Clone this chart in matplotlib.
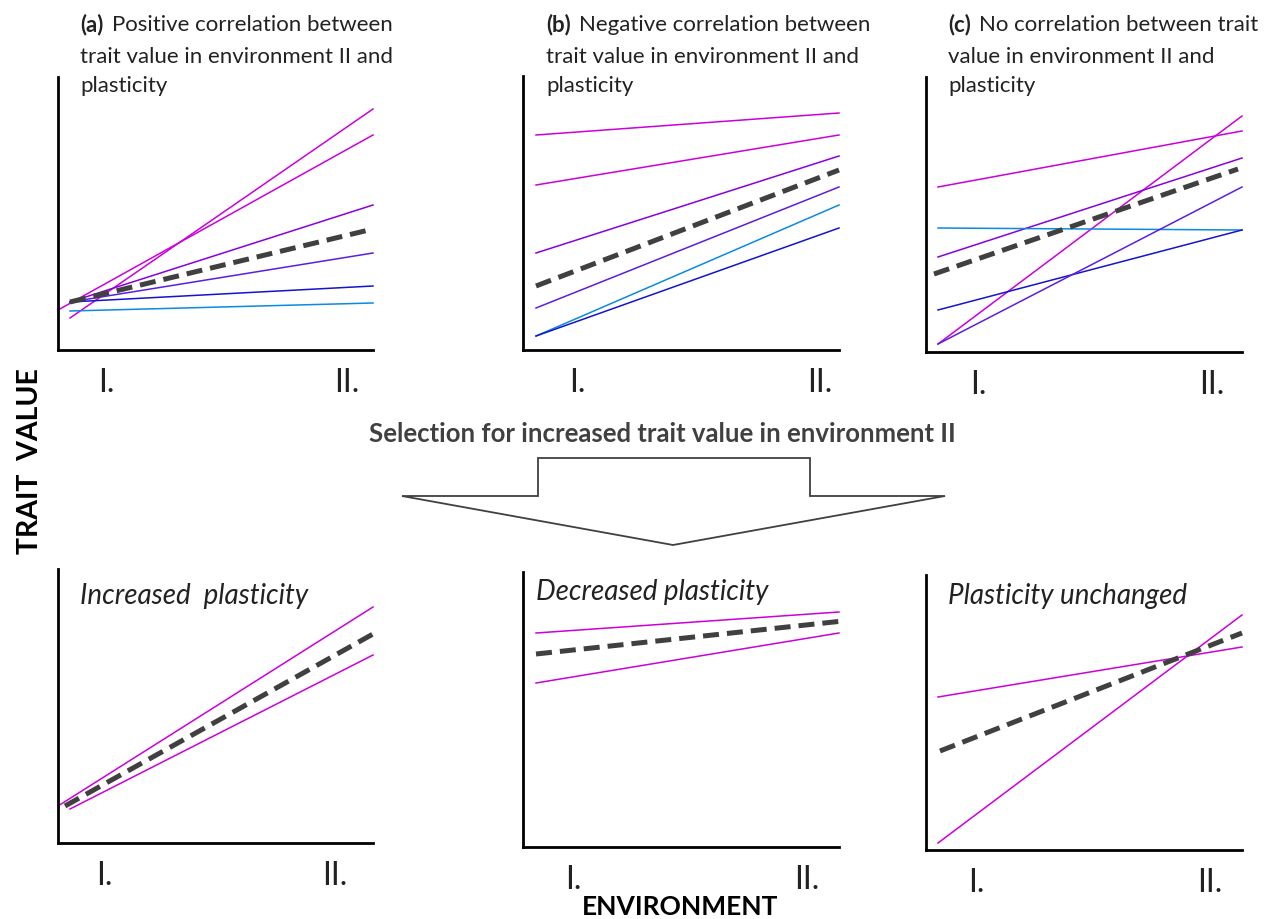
import matplotlib.pyplot as plt
from matplotlib.patches import Polygon

W, H = 1271, 920
plt.rcParams['font.family'] = ['Lato', 'DejaVu Sans']

MAG, PUR, VIO, BLU, LBL = '#cc00dd', '#8800e0', '#5a1ee0', '#1414cc', '#0a8ae0'
MEAN = '#404040'

# reaction norms, given as (x, trait value) at start and end, offsets from each panel's corner
a_x0 = [0, 12, 12, 12, 12, 12]
a_y0 = [40, 32, 48, 48, 48, 39]
a_y1 = [215, 241, 145, 97, 64, 47]
a_col = [MAG, MAG, PUR, VIO, BLU, LBL]
a_mean = [12, 48, 315, 121]

b_x0 = [13] * 6
b_y0 = [215, 165, 97, 42, 14, 14]
b_y1 = [237, 215, 194, 163, 145, 122]
b_col = [MAG, MAG, PUR, VIO, LBL, BLU]
b_mean = [13, 64, 316, 180]

c_x0 = [12] * 6
c_y0 = [8, 165, 95, 124, 42, 8]
c_y1 = [236, 221, 194, 122, 122, 165]
c_col = [MAG, MAG, PUR, LBL, BLU, VIO]
c_mean = [8, 78, 312, 183]

d_x0 = [0, 12]
d_y0 = [37, 34]
d_y1 = [236, 188]
d_col = [MAG, MAG]
d_mean = [7, 37, 315, 209]

e_x0 = [13, 13]
e_y0 = [214, 164]
e_y1 = [235, 214]
e_col = [MAG, MAG]
e_mean = [13, 193, 320, 226]

f_x0 = [12, 12]
f_y0 = [153, 7]
f_y1 = [203, 235]
f_col = [MAG, MAG]
f_mean = [14, 99, 316, 217]

env_labels = ['I.', 'II.']

top_tags = ['(a)', '(b)', '(c)']
top_lines = [['Positive correlation between', 'trait value in environment II and', 'plasticity'],
             ['Negative correlation between', 'trait value in environment II and', 'plasticity'],
             ['No correlation between trait', 'value in environment II and', 'plasticity']]
bottom_titles = ['Increased  plasticity', 'Decreased plasticity', 'Plasticity unchanged']

# panel boxes in pixels: left, baseline, width, height
boxes = [(58, 351, 315, 273), (523, 351, 316, 274), (926, 353, 316, 275),
         (58, 844, 315, 274), (523, 848, 316, 275), (926, 851, 316, 275)]
tick_pos = [(48, 289), (54, 297), (52, 286), (46, 277), (50, 284), (50, 284)]

data = [(a_x0, a_y0, a_y1, a_col, a_mean), (b_x0, b_y0, b_y1, b_col, b_mean),
        (c_x0, c_y0, c_y1, c_col, c_mean), (d_x0, d_y0, d_y1, d_col, d_mean),
        (e_x0, e_y0, e_y1, e_col, e_mean), (f_x0, f_y0, f_y1, f_col, f_mean)]

fig = plt.figure(figsize=(W / 100, H / 100), dpi=100)

for i, (box, (x0, y0, y1, col, mean)) in enumerate(zip(boxes, data)):
    left, base, w, h = box
    ax = fig.add_axes([left / W, 1 - base / H, w / W, h / H])
    ax.set_xlim(0, w)
    ax.set_ylim(0, h)
    for xs, ys, ye, c in zip(x0, y0, y1, col):
        ax.plot([xs, w], [ys, ye], color=c, lw=1.1, clip_on=False)
    ax.plot([mean[0], mean[2]], [mean[1], mean[3]], color=MEAN, lw=3.6,
            dashes=(3.2, 1.6), clip_on=False, zorder=5)
    for s in ['top', 'right']:
        ax.spines[s].set_visible(False)
    for s in ['left', 'bottom']:
        ax.spines[s].set_linewidth(2.0)
    ax.set_yticks([])
    ax.set_xticks(tick_pos[i], env_labels, fontsize=23)
    ax.tick_params(axis='x', length=0, pad=12, colors='#222222')

# panel headings: bold tag, then the rest of the first line right after it
ax0 = fig.axes[0]
for tag, lines, x in zip(top_tags, top_lines, [80, 546, 948]):
    t = fig.text(x / W, 1 - 25 / H, tag, fontsize=16, fontweight='bold', va='center',
                 color='#222222')
    ax0.annotate(lines[0], xy=(1, 0.5), xycoords=t, xytext=(6, 0), textcoords='offset points',
                 fontsize=16, va='center', color='#222222', annotation_clip=False)
    for k, y in zip([1, 2], [57, 86]):
        fig.text(x / W, 1 - y / H, lines[k], fontsize=16, va='center', color='#222222')

for txt, x, y in zip(bottom_titles, [80, 536, 948], [596, 592, 596]):
    fig.text(x / W, 1 - y / H, txt, fontsize=20, style='italic', va='center', color='#222222')

fig.text(662 / W, 1 - 434 / H, 'Selection for increased trait value in environment II',
         fontsize=18.5, fontweight='bold', ha='center', va='center', color='#404040')
fig.text(30 / W, 1 - 461 / H, 'TRAIT  VALUE', fontsize=20.5, fontweight='bold', rotation=90,
         ha='center', va='center', color='black')
fig.text(680 / W, 1 - 907 / H, 'ENVIRONMENT', fontsize=19, fontweight='bold',
         ha='center', va='center', color='black')

# big down arrow
arrow_x = [402, 538, 538, 810, 810, 945, 673]
arrow_y = [497, 497, 459, 459, 497, 497, 546]
pts = [(x / W, 1 - y / H) for x, y in zip(arrow_x, arrow_y)]
fig.patches.append(Polygon(pts, closed=True, facecolor='white', edgecolor='#404040',
                           lw=1.3, transform=fig.transFigure))

fig.savefig('out.png', dpi=100)
